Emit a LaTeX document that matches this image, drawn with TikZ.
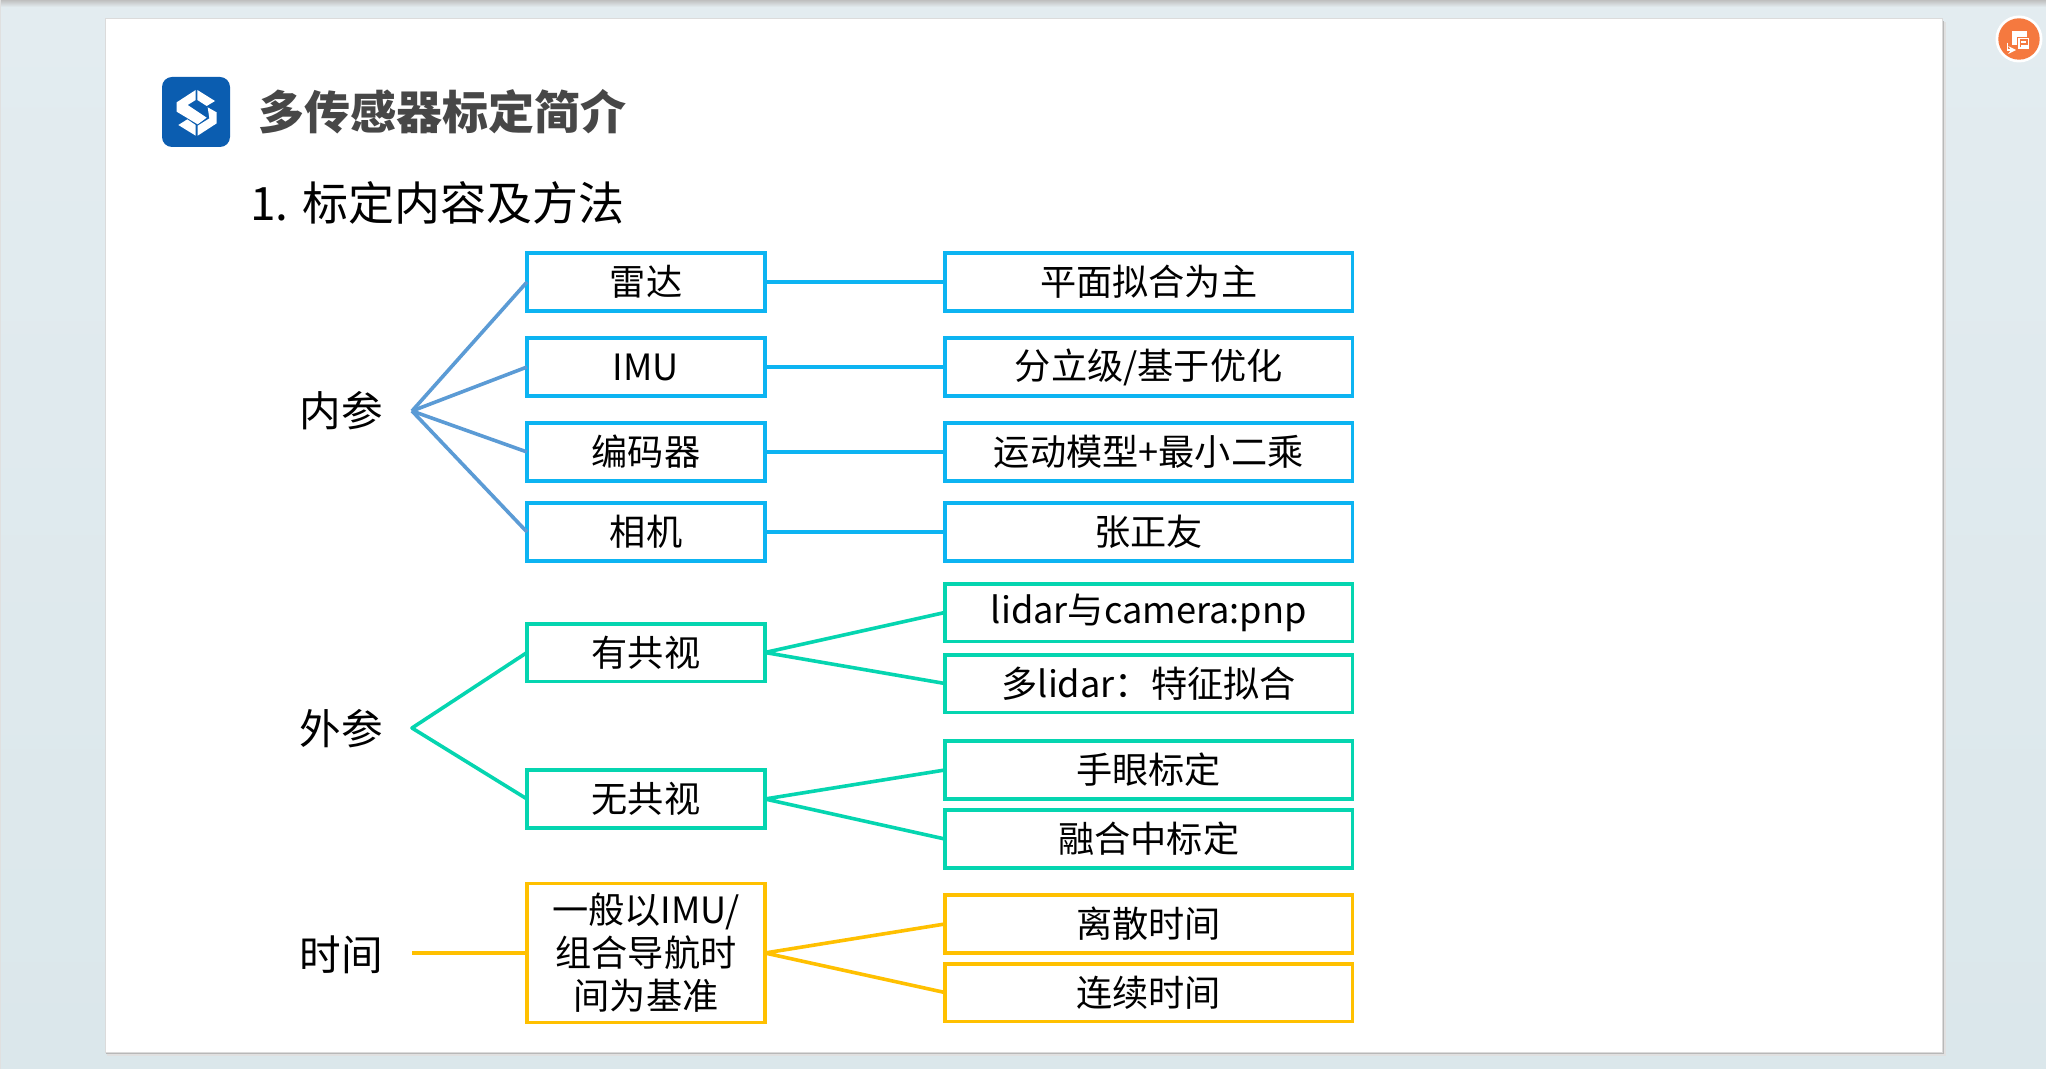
\documentclass[tikz,border=0pt]{standalone}
\usepackage{fontspec}
\setmainfont{Noto Sans CJK SC}
\usepackage{color}
\definecolor{skyline}{HTML}{0DB4F2}
\definecolor{tealline}{HTML}{05D5B0}
\definecolor{goldline}{HTML}{FFC000}
\definecolor{hubline}{HTML}{5B9BD5}
\definecolor{logoblue}{HTML}{0B5DB0}
\definecolor{badgeorange}{HTML}{F5793F}
\definecolor{pagetop}{HTML}{E3ECF0}
\definecolor{pagemid}{HTML}{E5E9E6}
\definecolor{pagebottom}{HTML}{DBE7EB}
\tikzset{
	box/.style={draw=#1,line width=1.8pt,fill=white,inner sep=0pt,outer sep=0pt,align=center,
		font=\fontsize{18.1}{21.5}\selectfont},
	midbox/.style={box=#1,minimum width=119pt,minimum height=28.8pt},
	endbox/.style={box=#1,minimum width=203.8pt,minimum height=28.8pt},
	grouplabel/.style={inner sep=0pt,font=\fontsize{20.8}{24}\selectfont},
	branch/.style={draw=#1,line width=1.8pt,line join=round}
}
\newcommand{\slogo}{\fill[white] (127,60) -- (180,93) -- (155,108) -- (127,90) -- cycle;
			\fill[white] (122,60) -- (122,90) -- (98,105) -- (155,143) -- (128,163) -- (65,125) -- (65,97) -- cycle;
			\fill[white] (158,112) -- (185,127) -- (185,160) -- (128,197) -- (128,167) -- (163,145) -- cycle;
			\fill[white] (70,165) -- (97,148) -- (122,165) -- (122,197) -- cycle;}
\begin{document}
\begin{tikzpicture}[x=0.5pt,y=-0.5pt]
	\useasboundingbox (0,0) rectangle (2046,1069);

	% page
	\shade[top color=pagetop,middle color=pagemid,bottom color=pagebottom] (0,0) rectangle (2046,1069);
	\shade[top color=black!25,bottom color=pagetop] (0,0) rectangle (2046,7);
	\fill[black!12] (0,0) rectangle (1,1069);
	\fill[black!12] (107,22) rectangle (1946,1056);
	\fill[black!28] (106,21) rectangle (1944,1054);
	\draw[fill=white,draw=black!14,line width=0.5pt] (105.5,19) rectangle (1942,1052);

	% badge
	\fill[white] (2019,39) circle (23.5);
	\fill[badgeorange] (2019,39) circle (20.7);
	\fill[white] (2011.7,31) rectangle (2026.7,45);
	\draw[fill=white,draw=badgeorange,line width=0.5pt] (2017.3,37.3) rectangle (2029.3,49.3);
	\draw[badgeorange,line width=0.8pt] (2020.5,47.5) -- (2020.5,40) -- (2027,40) -- (2027,44) -- (2020.5,44);
	\draw[white,line width=0.7pt,-stealth] (2007.3,42.7) -- (2007.3,50) -- (2016,50);

	% logo
	\fill[logoblue,rounded corners=5pt] (162,77) rectangle (230,147);
	\begin{scope}[shift={(155,70)},x=0.1667pt,y=-0.1667pt]
		\slogo
	\end{scope}

	% headings
	\node[anchor=west,inner sep=0pt,text=black!72,font=\fontsize{23}{27}\selectfont\bfseries] (title) at (258,112) {多传感器标定简介};
	\node[anchor=west,inner sep=0pt,font=\fontsize{23}{27}\selectfont] (subtitle) at (250,203) {1. 标定内容及方法};

	% group labels
	\node[grouplabel] (neican) at (341,411) {内参};
	\node[grouplabel] (waican) at (341,729) {外参};
	\node[grouplabel] (shijian) at (341,955) {时间};

	\coordinate (neihub) at (412,411);
	\coordinate (waihub) at (412,728);
	\coordinate (shihub) at (412,953);

	% middle column
	\node[midbox=skyline] (leida) at (646,282) {雷达};
	\node[midbox=skyline] (imu) at (646,367) {IMU};
	\node[midbox=skyline] (bianma) at (646,452) {编码器};
	\node[midbox=skyline] (xiangji) at (646,532) {相机};
	\node[midbox=tealline] (yougong) at (646,652.5) {有共视};
	\node[midbox=tealline] (wugong) at (646,799) {无共视};
	\node[box=goldline,minimum width=119pt,minimum height=69.5pt] (jizhun) at (646,953) {一般以IMU/\\组合导航时\\间为基准};

	% right column
	\node[endbox=skyline] (pingmian) at (1148.7,282) {平面拟合为主};
	\node[endbox=skyline] (fenli) at (1148.7,367) {分立级/基于优化};
	\node[endbox=skyline] (yundong) at (1148.7,452) {运动模型+最小二乘};
	\node[endbox=skyline] (zhang) at (1148.7,532) {张正友};
	\node[endbox=tealline] (pnp) at (1148.7,612.5) {lidar与camera:pnp};
	\node[endbox=tealline] (duolidar) at (1148.7,683.5) {多lidar：特征拟合};
	\node[endbox=tealline] (shouyan) at (1148.7,770) {手眼标定};
	\node[endbox=tealline] (ronghe) at (1148.7,839) {融合中标定};
	\node[endbox=goldline] (lisan) at (1148.7,924) {离散时间};
	\node[endbox=goldline] (lianxu) at (1148.7,992.5) {连续时间};

	% connectors
	\draw[branch=hubline] (neihub) -- (leida.west);
	\draw[branch=hubline] (neihub) -- (imu.west);
	\draw[branch=hubline] (neihub) -- (bianma.west);
	\draw[branch=hubline] (neihub) -- (xiangji.west);
	\draw[branch=skyline] (leida.east) -- (pingmian.west);
	\draw[branch=skyline] (imu.east) -- (fenli.west);
	\draw[branch=skyline] (bianma.east) -- (yundong.west);
	\draw[branch=skyline] (xiangji.east) -- (zhang.west);

	\draw[branch=tealline] (yougong.west) -- (waihub) -- (wugong.west);
	\draw[branch=tealline] (pnp.west) -- (yougong.east) -- (duolidar.west);
	\draw[branch=tealline] (shouyan.west) -- (wugong.east) -- (ronghe.west);

	\draw[branch=goldline] (shihub) -- (jizhun.west);
	\draw[branch=goldline] (lisan.west) -- (jizhun.east) -- (lianxu.west);
\end{tikzpicture}
\end{document}
